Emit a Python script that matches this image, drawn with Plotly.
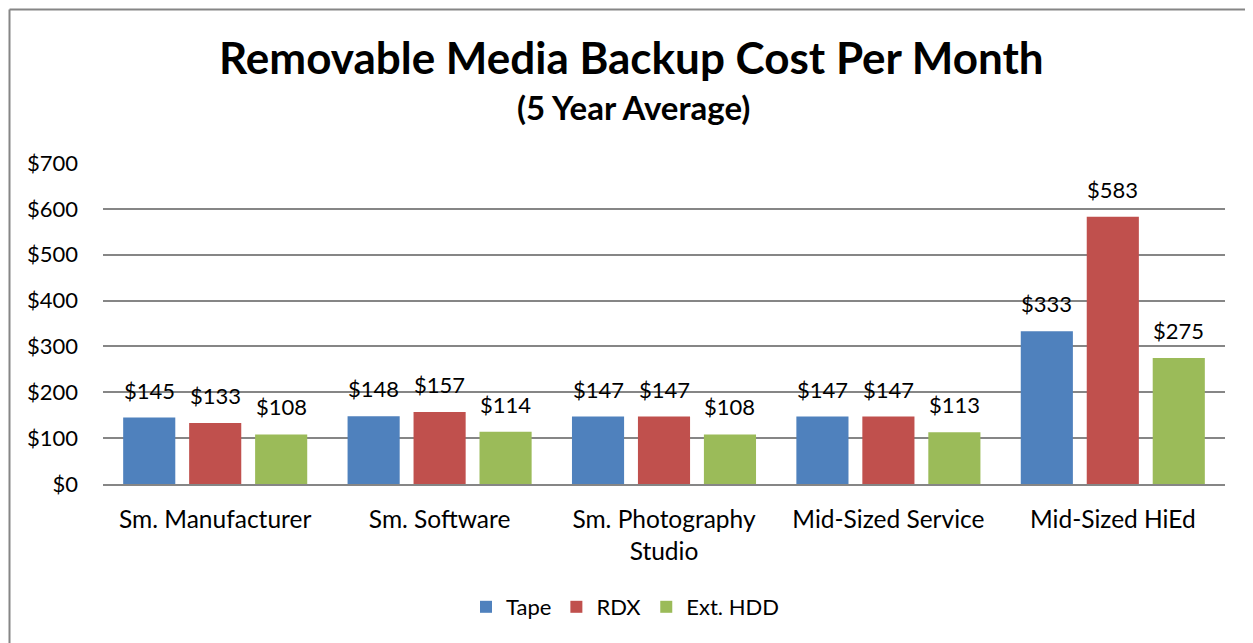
import plotly.graph_objects as go

categories = ["Sm. Manufacturer", "Sm. Software", "Sm. Photography<br>Studio", "Mid-Sized Service", "Mid-Sized HiEd"]
series_names = ["Tape", "RDX", "Ext. HDD"]
tape = [145, 148, 147, 147, 333]
rdx = [133, 157, 147, 147, 583]
ext_hdd = [108, 114, 108, 113, 275]
y_ticks = [0, 100, 200, 300, 400, 500, 600, 700]
y_tick_labels = ["$" + str(v) for v in y_ticks]

colors = ["#4F81BD", "#C0504D", "#9BBB59"]
FONT = "Lato, Carlito, Calibri, sans-serif"

W, H = 1253, 643
OFF = 8  # page body offset
# target pixel positions of the plot area in the screenshot
PL, PR, PT, PB = 103, 1225, 163, 484
ML, MT = PL - OFF, PT - OFF
MR = W - (PR - OFF)
MB = H - (PB - OFF)
BARGAP = 0.118
BARGROUPGAP = 0.21

plot_w = PR - PL
plot_h = PB - PT


def px_x(x):
    return (x - PL) / plot_w


def px_y(y):
    return (PB - y) / plot_h


fig = go.Figure()
all_series = [tape, rdx, ext_hdd]
for name, vals, col in zip(series_names, all_series, colors):
    fig.add_trace(go.Bar(name=name, x=categories, y=vals, marker=dict(color=col, line=dict(width=0)),
                         hoverinfo="skip"))

# data labels
cat_w = plot_w / len(categories)
slot = cat_w * (1 - BARGAP) / len(series_names)
for i, vals in enumerate(all_series):
    for c, v in zip(categories, vals):
        fig.add_annotation(x=c, y=v, text="$" + str(v), showarrow=False,
                           xshift=(i - 1) * slot, yshift=12, yanchor="bottom",
                           font=dict(family=FONT, size=22, color="#000000"))

fig.add_annotation(xref="paper", yref="paper", x=px_x(631), y=px_y(57),
                   text="<b>Removable Media Backup Cost Per Month</b>", showarrow=False,
                   xanchor="center", yanchor="middle", font=dict(family=FONT, size=44, color="#000000"))
fig.add_annotation(xref="paper", yref="paper", x=px_x(633), y=px_y(107),
                   text="<b>(5 Year Average)</b>", showarrow=False,
                   xanchor="center", yanchor="middle", font=dict(family=FONT, size=33, color="#000000"))

# chart area border (left and top visible), kept just inside the figure
BX = OFF + 1.5
BY = OFF + 1.5
fig.add_shape(type="line", xref="paper", yref="paper",
              x0=px_x(BX), x1=px_x(W + 20), y0=px_y(BY), y1=px_y(BY),
              line=dict(color="#868686", width=2))
fig.add_shape(type="line", xref="paper", yref="paper",
              x0=px_x(BX), x1=px_x(BX), y0=px_y(BY), y1=px_y(H + 20),
              line=dict(color="#868686", width=2))

fig.update_layout(
    width=W, height=H,
    margin=dict(l=ML, r=MR, t=MT, b=MB, autoexpand=False),
    paper_bgcolor="white", plot_bgcolor="white",
    barmode="group", bargap=BARGAP, bargroupgap=BARGROUPGAP,
    font=dict(family=FONT, size=22, color="#000000"),
    showlegend=True,
    legend=dict(orientation="h", x=px_x(625), xanchor="center",
                y=px_y(607), yanchor="middle",
                font=dict(family=FONT, size=22), itemwidth=30, traceorder="normal"),
    yaxis=dict(range=[0, 700], tickvals=y_ticks, ticktext=y_tick_labels,
               showgrid=True, gridcolor="#868686", gridwidth=2,
               zeroline=False, showline=False, ticks="", ticklabelstandoff=24,
               tickfont=dict(family=FONT, size=22, color="#000000"), fixedrange=True),
    xaxis=dict(showline=True, linecolor="#868686", linewidth=2, ticks="",
               ticklabelstandoff=13,
               tickfont=dict(family=FONT, size=24.5, color="#000000"), fixedrange=True),
)

fig.write_html("out.html")
